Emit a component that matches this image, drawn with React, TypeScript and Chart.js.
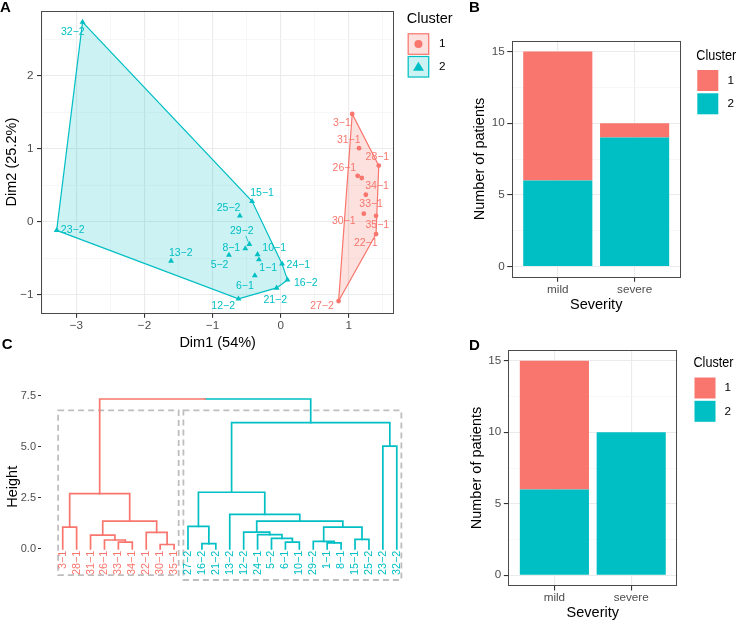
import React, { useEffect, useRef } from "react";
import { Chart, registerables } from "chart.js";
Chart.register(...registerables);

const RED = "#F8766D";
const CYAN = "#00BFC4";
const RED_FILL = "rgba(248,118,109,0.22)";
const CYAN_FILL = "rgba(0,191,196,0.2)";
const FONT = '"Liberation Sans", Arial, Helvetica, sans-serif';
const TICK_TEXT = "#4D4D4D";
const GRID_MAJOR = "#EBEBEB";
const GRID_MINOR = "#F4F4F4";
const W = 738;
const H = 622;

// ---------------- Panel A: PCA individuals ----------------
const pcaLabels = ["32-2", "23-2", "13-2", "12-2", "25-2", "15-1", "29-2", "8-1", "5-2", "10-1", "1-1", "6-1", "24-1", "16-2", "21-2", "3-1", "31-1", "28-1", "26-1", "34-1", "33-1", "30-1", "35-1", "22-1", "27-2"];
const pcaDim1 = [-2.91, -3.29, -1.61, -0.62, -0.6, -0.42, -0.46, -0.52, -0.76, -0.34, -0.32, -0.38, 0.02, 0.1, -0.06, 1.05, 1.15, 1.44, 1.13, 1.19, 1.25, 1.22, 1.4, 1.4, 0.85];
const pcaDim2 = [2.74, -0.12, -0.54, -1.06, 0.08, 0.28, -0.31, -0.37, -0.46, -0.45, -0.52, -0.74, -0.58, -0.8, -0.91, 1.48, 1.01, 0.77, 0.63, 0.6, 0.37, 0.11, 0.08, -0.17, -1.09];
const pcaCluster = [2, 2, 2, 2, 2, 2, 2, 2, 2, 2, 2, 2, 2, 2, 2, 1, 1, 1, 1, 1, 1, 1, 1, 1, 1];
// label nudges in pixels (repelled text placement)
const labelDx = [-9.7, 16, 9.7, -15.3, -11.3, 10, -7.6, -14, -9.4, 16.6, 9.3, -10, 16.3, 18.3, -1.4, -10.3, -10.3, -1.4, -13.3, 15.3, 5.3, -20, 1.3, -10.3, -16.6];
const labelDy = [10.4, 0, -7.7, 7.4, -7.7, -8, -13.4, 0, 10.4, -6.6, 8.4, 10.3, 1, 2.7, 12, 9, -7.6, -8, -7.6, 8.3, 9, 7.3, 9.4, 9.4, 5.3];
const dim1GridTicks = [-3.5, -3, -2.5, -2, -1.5, -1, -0.5, 0, 0.5, 1, 1.5];
const dim2GridTicks = [-1, -0.5, 0, 0.5, 1, 1.5, 2, 2.5];

// ---------------- Panels B & D: Severity counts ----------------
const severityCategories = ["mild", "severe"];
const clusterNames = ["1", "2"];
const kmeansCluster1 = [9, 1];
const kmeansCluster2 = [6, 9];
const hclustCluster1 = [9, 0];
const hclustCluster2 = [6, 10];
const countGridTicks = [0, 2.5, 5, 7.5, 10, 12.5, 15];

// ---------------- Panel C: Dendrogram ----------------
const leafLabels = ["3-1", "28-1", "31-1", "26-1", "33-1", "34-1", "22-1", "30-1", "35-1", "27-2", "16-2", "21-2", "13-2", "12-2", "24-1", "5-2", "6-1", "10-1", "29-2", "1-1", "8-1", "15-1", "25-2", "23-2", "32-2"];
const leafCluster = [1, 1, 1, 1, 1, 1, 1, 1, 1, 2, 2, 2, 2, 2, 2, 2, 2, 2, 2, 2, 2, 2, 2, 2, 2];
// hclust-style merges: negative = leaf position, positive = earlier merge (1-based)
const mergeLeft = [-8, -11, -20, -5, -17, -19, -4, -22, -16, -3, -15, -7, -14, -1, 6, -10, 10, 13, -13, 14, 16, -24, 21, 20];
const mergeRight = [-9, -12, -21, -6, -18, 3, 4, -23, 5, 7, 9, 1, 11, -2, 8, 2, 12, 15, 18, 17, 19, -25, 22, 23];
const mergeHeight = [0.21, 0.25, 0.29, 0.33, 0.33, 0.36, 0.43, 0.46, 0.51, 0.67, 0.69, 0.8, 0.82, 1.06, 1.06, 1.1, 1.36, 1.36, 1.69, 2.7, 2.77, 5.03, 6.18, 7.34];
const heightTicks = [0, 2.5, 5, 7.5];
const clusterBoxTop = 6.78;
const clusterBoxBottom = [-1.29, -1.53];

const minus = (s: string) => s.replace(/-/g, "\u2212");
const fmtNum = (v: number) => (v < 0 ? "\u2212" + Math.abs(v) : String(v));
const fixW = (w: number) => (s: any) => { s.width = w; };
const fixH = (h: number) => (s: any) => { s.height = h; };
const setTicks = (vals: number[]) => (s: any) => { s.ticks = vals.map((v) => ({ value: v })); };
const font = (size: number, weight: any = "normal") => ({ family: FONT, size, weight, lineHeight: 1.2 });

function convexHull(pts: { x: number; y: number }[]) {
  const p = pts.slice().sort((a, b) => a.x - b.x || a.y - b.y);
  const cross = (o: any, a: any, b: any) => (a.x - o.x) * (b.y - o.y) - (a.y - o.y) * (b.x - o.x);
  const lower: any[] = [];
  for (const q of p) {
    while (lower.length >= 2 && cross(lower[lower.length - 2], lower[lower.length - 1], q) <= 0) lower.pop();
    lower.push(q);
  }
  const upper: any[] = [];
  for (let i = p.length - 1; i >= 0; i--) {
    const q = p[i];
    while (upper.length >= 2 && cross(upper[upper.length - 2], upper[upper.length - 1], q) <= 0) upper.pop();
    upper.push(q);
  }
  const hull = lower.slice(0, -1).concat(upper.slice(0, -1));
  hull.push(hull[0]);
  return hull;
}

// ---- generic drawing plugins ----
type LegendItem = { label: string; color: string; fill: string; point?: string; border?: boolean };
function legendPlugin(id: string, x: number, titleY: number, titleMaxW: number, keyTop: number, keySize: number, keyGap: number, labelX: number, items: LegendItem[]) {
  return {
    id,
    afterDraw(chart: any) {
      const ctx = chart.ctx;
      ctx.save();
      ctx.fillStyle = "#000";
      ctx.font = `14.5px ${FONT}`;
      ctx.textBaseline = "middle";
      ctx.textAlign = "left";
      ctx.fillText("Cluster", x, titleY, titleMaxW);
      items.forEach((it, i) => {
        const top = keyTop + i * (keySize + keyGap);
        ctx.fillStyle = it.fill;
        ctx.fillRect(x + 1, top, keySize, keySize);
        if (it.border) {
          ctx.strokeStyle = it.color;
          ctx.lineWidth = 1.2;
          ctx.strokeRect(x + 1.5, top + 0.5, keySize - 1, keySize - 1);
        }
        const cx = x + 1 + keySize / 2;
        const cy = top + keySize / 2;
        if (it.point === "circle") {
          ctx.fillStyle = it.color;
          ctx.beginPath();
          ctx.arc(cx, cy, 4, 0, Math.PI * 2);
          ctx.fill();
        } else if (it.point === "triangle") {
          ctx.fillStyle = it.color;
          ctx.beginPath();
          ctx.moveTo(cx, cy - 5);
          ctx.lineTo(cx + 5.5, cy + 4);
          ctx.lineTo(cx - 5.5, cy + 4);
          ctx.closePath();
          ctx.fill();
        }
        ctx.fillStyle = "#000";
        ctx.font = `11.7px ${FONT}`;
        ctx.fillText(it.label, labelX, cy);
      });
      ctx.restore();
    },
  };
}

function letterPlugin(id: string, letter: string, x: number, y: number) {
  return {
    id,
    afterDraw(chart: any) {
      const ctx = chart.ctx;
      ctx.save();
      ctx.fillStyle = "#000";
      ctx.font = `bold 15px ${FONT}`;
      ctx.textBaseline = "alphabetic";
      ctx.textAlign = "left";
      ctx.fillText(letter, x, y);
      ctx.restore();
    },
  };
}

const borderPlugin = {
  id: "panelBorder",
  afterDatasetsDraw(chart: any) {
    const { ctx, chartArea: a } = chart;
    ctx.save();
    ctx.strokeStyle = "#4A4A4A";
    ctx.lineWidth = 1;
    ctx.strokeRect(Math.round(a.left) + 0.5, Math.round(a.top) + 0.5, Math.round(a.right - a.left) - 1, Math.round(a.bottom - a.top) - 1);
    ctx.restore();
  },
};

// ---------------- Chart builders ----------------
function buildPCA(canvas: HTMLCanvasElement) {
  const pts = pcaLabels.map((l, i) => ({ x: pcaDim1[i], y: pcaDim2[i], label: l, c: pcaCluster[i], i }));
  const c1 = pts.filter((p) => p.c === 1);
  const c2 = pts.filter((p) => p.c === 2);
  const isMajor = (v: number) => Number.isInteger(v);
  const gridOpts = {
    color: (c: any) => (isMajor(c.tick?.value) ? GRID_MAJOR : GRID_MINOR),
    lineWidth: (c: any) => (isMajor(c.tick?.value) ? 1.1 : 0.7),
    tickColor: (c: any) => (isMajor(c.tick?.value) ? "#333333" : "rgba(0,0,0,0)"),
    tickLength: 4,
    drawTicks: true,
  };
  const labelsPlugin = {
    id: "pcaLabels",
    afterDatasetsDraw(chart: any) {
      const ctx = chart.ctx;
      const xs = chart.scales.x;
      const ys = chart.scales.y;
      ctx.save();
      ctx.font = `10.5px ${FONT}`;
      ctx.textAlign = "center";
      ctx.textBaseline = "middle";
      pts.forEach((p) => {
        const px = xs.getPixelForValue(p.x);
        const py = ys.getPixelForValue(p.y);
        const lx = px + labelDx[p.i];
        const ly = py + labelDy[p.i];
        const col = p.c === 1 ? RED : CYAN;
        if (Math.hypot(labelDx[p.i], labelDy[p.i]) > 15 && Math.abs(labelDy[p.i]) > 10) {
          ctx.strokeStyle = col;
          ctx.lineWidth = 0.8;
          ctx.beginPath();
          ctx.moveTo(lx + 4, ly + 5);
          ctx.lineTo(px - 1, py - 2);
          ctx.stroke();
        }
        ctx.fillStyle = col;
        ctx.fillText(minus(p.label), lx, ly);
      });
      ctx.restore();
    },
  };
  return new Chart(canvas, {
    type: "scatter",
    data: {
      datasets: [
        { label: "1", data: c1, pointStyle: "circle", pointRadius: 2.4, backgroundColor: RED, borderColor: RED, borderWidth: 0, order: 0 } as any,
        { label: "2", data: c2, pointStyle: "triangle", pointRadius: 3.4, backgroundColor: CYAN, borderColor: CYAN, borderWidth: 0, order: 0 } as any,
        { label: "hull1", data: convexHull(c1), showLine: true, fill: "shape", backgroundColor: RED_FILL, borderColor: RED, borderWidth: 1.2, pointRadius: 0, tension: 0, order: 1 } as any,
        { label: "hull2", data: convexHull(c2), showLine: true, fill: "shape", backgroundColor: CYAN_FILL, borderColor: CYAN, borderWidth: 1.2, pointRadius: 0, tension: 0, order: 1 } as any,
      ],
    },
    options: {
      responsive: false,
      animation: false,
      events: [],
      layout: { padding: { left: 0, top: 5, right: W - 394.3, bottom: H - 313.7 - 40 } },
      plugins: { legend: { display: false }, tooltip: { enabled: false } },
      scales: {
        x: {
          type: "linear",
          min: -3.52,
          max: 1.668,
          afterBuildTicks: setTicks(dim1GridTicks),
          afterFit: fixH(40),
          border: { display: false },
          grid: gridOpts as any,
          ticks: { callback: (v: any) => (isMajor(v) ? fmtNum(v) : ""), color: TICK_TEXT, font: font(11.7), padding: 1, maxRotation: 0, autoSkip: false },
          title: { display: true, text: "Dim1 (54%)", color: "#000", font: font(14.5), padding: { top: 0, bottom: 2.3 } },
        },
        y: {
          type: "linear",
          min: -1.264,
          max: 2.9,
          afterBuildTicks: setTicks(dim2GridTicks),
          afterFit: fixW(41),
          border: { display: false },
          grid: gridOpts as any,
          ticks: { callback: (v: any) => (isMajor(v) ? fmtNum(v) : ""), color: TICK_TEXT, font: font(11.7), padding: 3.5, autoSkip: false },
          title: { display: true, text: "Dim2 (25.2%)", color: "#000", font: font(14.5), padding: { top: 3.3, bottom: 0 } },
        },
      },
    },
    plugins: [
      labelsPlugin,
      borderPlugin,
      legendPlugin("legendA", 406.7, 19.3, 60, 33.3, 21.5, 1.2, 439, [
        { label: clusterNames[0], color: RED, fill: RED_FILL, point: "circle", border: true },
        { label: clusterNames[1], color: CYAN, fill: CYAN_FILL, point: "triangle", border: true },
      ]),
      letterPlugin("letterA", "A", 0, 12.3),
    ],
  });
}

function buildBars(
  canvas: HTMLCanvasElement,
  c1: number[],
  c2: number[],
  area: { left: number; right: number; top: number; bottom: number },
  yAxisW: number,
  yTitlePad: number,
  xAxisH: number,
  xTitlePad: number,
  xTickPad: number,
  legend: any,
  letter: any
) {
  const isMajor = (v: number) => v % 5 === 0;
  const gridOpts = {
    color: (c: any) => (isMajor(c.tick?.value) ? GRID_MAJOR : GRID_MINOR),
    lineWidth: (c: any) => (isMajor(c.tick?.value) ? 1.1 : 0.7),
    tickColor: (c: any) => (isMajor(c.tick?.value) ? "#333333" : "rgba(0,0,0,0)"),
    tickLength: 4.5,
    drawTicks: true,
  };
  const catPos = severityCategories.map((_, i) => i + 1);
  return new Chart(canvas, {
    type: "bar",
    data: {
      datasets: [
        { label: clusterNames[1], data: catPos.map((x, i) => ({ x, y: c2[i] })), backgroundColor: CYAN, borderWidth: 0, barPercentage: 0.9, categoryPercentage: 1 } as any,
        { label: clusterNames[0], data: catPos.map((x, i) => ({ x, y: c1[i] })), backgroundColor: RED, borderWidth: 0, barPercentage: 0.9, categoryPercentage: 1 } as any,
      ],
    },
    options: {
      responsive: false,
      animation: false,
      events: [],
      layout: { padding: { left: area.left - yAxisW, top: area.top, right: W - area.right, bottom: H - area.bottom - xAxisH } },
      plugins: { legend: { display: false }, tooltip: { enabled: false } },
      scales: {
        x: {
          type: "linear",
          stacked: true,
          offset: false,
          min: 0.4,
          max: 2.6,
          afterBuildTicks: setTicks(catPos),
          afterFit: fixH(xAxisH),
          border: { display: false },
          grid: { offset: false, color: GRID_MAJOR, lineWidth: 1.1, tickColor: "#333333", tickLength: 4.5, drawTicks: true },
          ticks: { callback: (v: any) => severityCategories[Math.round(v) - 1] ?? "", color: TICK_TEXT, font: font(11.7), padding: xTickPad, maxRotation: 0, autoSkip: false },
          title: { display: true, text: "Severity", color: "#000", font: font(14.5), padding: { top: 0, bottom: xTitlePad } },
        },
        y: {
          type: "linear",
          stacked: true,
          min: -0.75,
          max: 15.75,
          afterBuildTicks: setTicks(countGridTicks),
          afterFit: fixW(yAxisW),
          border: { display: false },
          grid: gridOpts as any,
          ticks: { callback: (v: any) => (isMajor(v) ? String(v) : ""), color: TICK_TEXT, font: font(11.7), padding: 2.5, autoSkip: false },
          title: { display: true, text: "Number of patients", color: "#000", font: font(14.5), padding: { top: yTitlePad, bottom: 0 } },
        },
      },
    },
    plugins: [borderPlugin, legend, letter],
  });
}

function buildDendrogram(canvas: HTMLCanvasElement) {
  const nodeX: number[] = [];
  const nodeH: number[] = [];
  const nodeLeaves: number[][] = [];
  const info = (ref: number) =>
    ref < 0 ? { x: -ref, h: 0, leaves: [-ref] } : { x: nodeX[ref - 1], h: nodeH[ref - 1], leaves: nodeLeaves[ref - 1] };
  const datasets: any[] = [];
  const colorOf = (leaves: number[]) => {
    const cs = new Set(leaves.map((l) => leafCluster[l - 1]));
    return cs.size === 1 ? (leafCluster[leaves[0] - 1] === 1 ? RED : CYAN) : null;
  };
  const seg = (data: any[], color: string) =>
    datasets.push({ data, showLine: true, borderColor: color, borderWidth: 1.7, pointRadius: 0, tension: 0, fill: false, borderCapStyle: "square" });
  mergeLeft.forEach((l, k) => {
    const a = info(l);
    const b = info(mergeRight[k]);
    const h = mergeHeight[k];
    const x = (a.x + b.x) / 2;
    nodeX.push(x);
    nodeH.push(h);
    const leaves = a.leaves.concat(b.leaves);
    nodeLeaves.push(leaves);
    const col = colorOf(leaves);
    if (col) {
      seg([{ x: a.x, y: a.h }, { x: a.x, y: h }, { x: b.x, y: h }, { x: b.x, y: b.h }], col);
    } else {
      seg([{ x: a.x, y: a.h }, { x: a.x, y: h }, { x, y: h }], colorOf(a.leaves) || RED);
      seg([{ x, y: h }, { x: b.x, y: h }, { x: b.x, y: b.h }], colorOf(b.leaves) || CYAN);
    }
  });
  const boxesPlugin = {
    id: "clusterBoxes",
    beforeDatasetsDraw(chart: any) {
      const ctx = chart.ctx;
      const xs = chart.scales.x;
      const ys = chart.scales.y;
      ctx.save();
      ctx.strokeStyle = "#BEBEBE";
      ctx.lineWidth = 1.8;
      ctx.setLineDash([6, 4]);
      [1, 2].forEach((cl, ci) => {
        const idx = leafCluster.map((c, i) => (c === cl ? i + 1 : -1)).filter((i) => i > 0);
        const x0 = xs.getPixelForValue(Math.min(...idx) - 0.33);
        const x1 = xs.getPixelForValue(Math.max(...idx) + 0.33);
        const y0 = ys.getPixelForValue(clusterBoxTop);
        const y1 = ys.getPixelForValue(clusterBoxBottom[ci]);
        ctx.strokeRect(x0, y0, x1 - x0, y1 - y0);
      });
      ctx.restore();
    },
  };
  const leafPlugin = {
    id: "leafLabels",
    afterDatasetsDraw(chart: any) {
      const ctx = chart.ctx;
      const xs = chart.scales.x;
      const ys = chart.scales.y;
      ctx.save();
      ctx.font = `10.8px ${FONT}`;
      ctx.textAlign = "right";
      ctx.textBaseline = "middle";
      leafLabels.forEach((l, i) => {
        const px = xs.getPixelForValue(i + 1);
        const py = ys.getPixelForValue(0) + 2;
        ctx.save();
        ctx.translate(px, py);
        ctx.rotate(-Math.PI / 2);
        ctx.fillStyle = leafCluster[i] === 1 ? RED : CYAN;
        ctx.fillText(minus(l), 0, 0);
        ctx.restore();
      });
      ctx.restore();
    },
  };
  return new Chart(canvas, {
    type: "scatter",
    data: { datasets },
    options: {
      responsive: false,
      animation: false,
      events: [],
      layout: { padding: { left: 0, top: 393.3, right: W - 410.7, bottom: H - 580.2 } },
      plugins: { legend: { display: false }, tooltip: { enabled: false } },
      scales: {
        x: { type: "linear", min: -0.56, max: 26, display: false },
        y: {
          type: "linear",
          min: -1.54,
          max: 7.62,
          afterBuildTicks: setTicks(heightTicks),
          afterFit: fixW(41),
          border: { display: false },
          grid: { drawOnChartArea: false, drawTicks: true, tickLength: 3, tickColor: "#333333", color: "rgba(0,0,0,0)" },
          ticks: { callback: (v: any) => Number(v).toFixed(1), color: TICK_TEXT, font: font(11), padding: 2, autoSkip: false },
          title: { display: true, text: "Height", color: "#000", font: font(14.5), padding: { top: 4, bottom: 0 } },
        },
      },
    },
    plugins: [boxesPlugin, leafPlugin, letterPlugin("letterC", "C", 1.7, 349)],
  });
}

function ChartCanvas({ build }: { build: (c: HTMLCanvasElement) => Chart }) {
  const ref = useRef<HTMLCanvasElement>(null);
  useEffect(() => {
    const chart = build(ref.current as HTMLCanvasElement);
    return () => chart.destroy();
  }, []);
  return <canvas ref={ref} width={W} height={H} style={{ position: "absolute", left: 0, top: 0, width: W, height: H }} />;
}

const barLegend = (id: string, x: number, titleY: number, keyTop: number, labelX: number) =>
  legendPlugin(id, x, titleY, 40, keyTop, 21, 2.3, labelX, [
    { label: clusterNames[0], color: RED, fill: RED },
    { label: clusterNames[1], color: CYAN, fill: CYAN },
  ]);

export default function App() {
  return (
    <div style={{ position: "absolute", left: 0, top: 0, width: W, height: H, background: "#fff", overflow: "hidden" }}>
      <ChartCanvas build={buildPCA} />
      <ChartCanvas
        build={(c) =>
          buildBars(c, kmeansCluster1, kmeansCluster2, { left: 511.7, right: 680.7, top: 40.7, bottom: 277.3 }, 45, 4.6, 40, 3.6, 0.5,
            barLegend("legendB", 696.3, 56, 70, 727.5), letterPlugin("letterB", "B", 469, 12.3))
        }
      />
      <ChartCanvas build={buildDendrogram} />
      <ChartCanvas
        build={(c) =>
          buildBars(c, hclustCluster1, hclustCluster2, { left: 508.3, right: 677.3, top: 350, bottom: 586 }, 45, 4.7, 36, 0.3, 0.5,
            barLegend("legendD", 693.5, 363, 377.5, 724.5), letterPlugin("letterD", "D", 469, 350.3))
        }
      />
    </div>
  );
}
